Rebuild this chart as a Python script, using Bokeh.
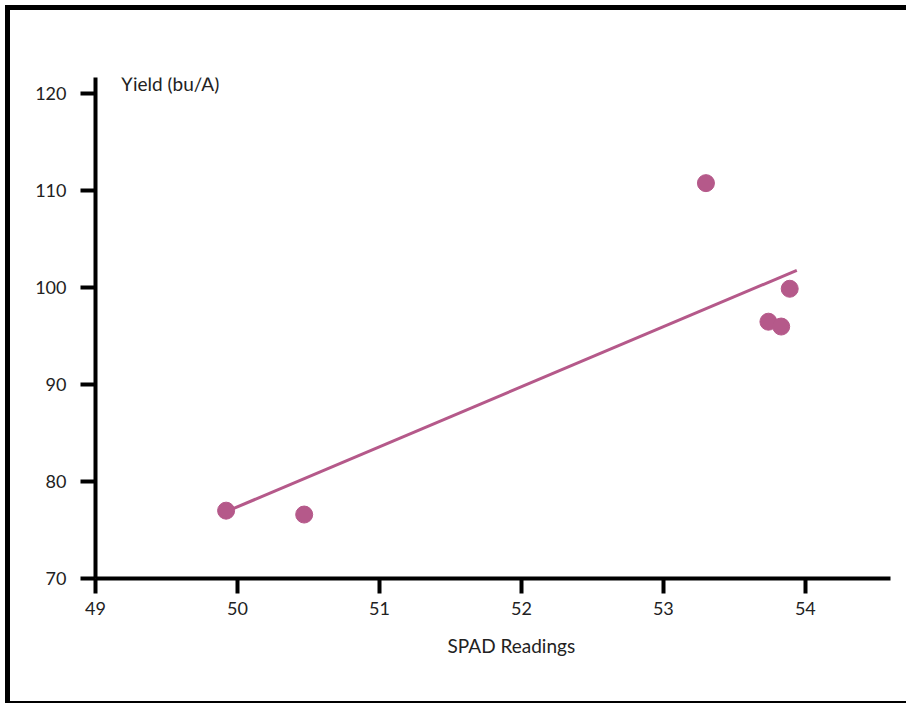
from bokeh.plotting import figure
from bokeh.models import Range1d, Label, FixedTicker, Title
from bokeh.embed import file_html
from bokeh.resources import INLINE

# Data
spad = [49.92, 50.47, 53.30, 53.74, 53.83, 53.89]
yield_bu = [77.0, 76.6, 110.8, 96.5, 96.0, 99.9]
fit_x = [49.92, 53.94]
fit_y = [76.9, 101.8]
x_ticks = [49, 50, 51, 52, 53, 54]
y_ticks = [70, 80, 90, 100, 110, 120]

COLOR = "#B5598A"
FONT = "Lato"
TXT = "#222222"

p = figure(width=901, height=698, output_backend="svg", toolbar_location=None,
           x_range=Range1d(49, 54.6), y_range=Range1d(70, 121.7),
           min_border_left=85, min_border_right=21, min_border_top=67, min_border_bottom=130)
p.styles = {"margin-left": "5px", "margin-top": "5px",
            "border-left": "5px solid black", "border-top": "5px solid black",
            "border-bottom": "2px solid black"}
p.xgrid.visible = False
p.ygrid.visible = False
p.outline_line_color = None
p.background_fill_color = "white"
p.border_fill_color = "white"

for ax in (p.xaxis[0], p.yaxis[0]):
    ax.axis_line_width = 4
    ax.axis_line_color = "black"
    ax.major_tick_line_width = 4
    ax.major_tick_line_color = "black"
    ax.major_tick_out = 15
    ax.major_tick_in = 0
    ax.minor_tick_line_color = None
    ax.major_label_text_font = FONT
    ax.major_label_text_font_size = "18px"
    ax.major_label_text_color = TXT
    ax.major_label_text_font_style = "normal"

p.xaxis.ticker = FixedTicker(ticks=x_ticks)
p.yaxis.ticker = FixedTicker(ticks=y_ticks)
p.xaxis.major_label_standoff = 8
p.yaxis.major_label_standoff = 14

p.line(fit_x, fit_y, line_color=COLOR, line_width=3)
p.scatter(spad, yield_bu, size=17, fill_color=COLOR, line_color=COLOR)

p.add_layout(Label(x=49.18, y=121.1, text="Yield (bu/A)", text_font=FONT,
                   text_font_size="19px", text_color=TXT, text_baseline="middle",
                   text_align="left"))
p.add_layout(Title(text="SPAD Readings", align="left", offset=352, standoff=28,
                   text_font=FONT, text_font_size="19px", text_color=TXT,
                   text_font_style="normal"), "below")

open("out.html", "w").write(file_html(p, INLINE))
